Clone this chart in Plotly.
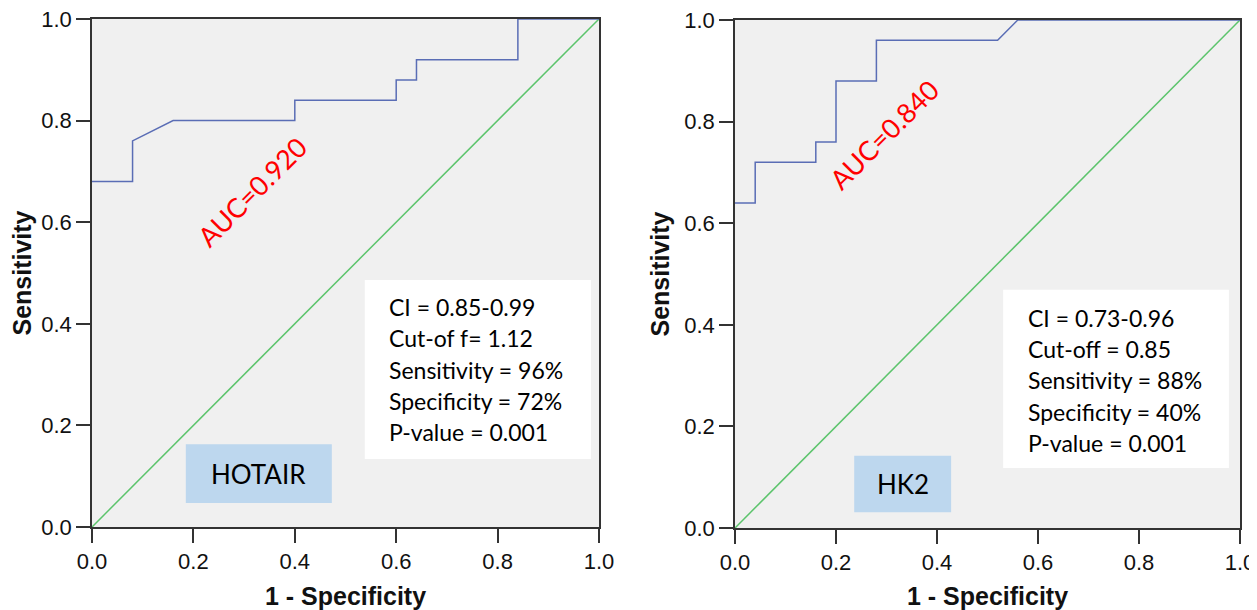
import plotly.graph_objects as go

# HOTAIR ROC curve
hotair_fpr = [0.0, 0.08, 0.08, 0.16, 0.40, 0.40, 0.60, 0.60, 0.64, 0.64, 0.84, 0.84, 1.0]
hotair_tpr = [0.68, 0.68, 0.76, 0.80, 0.80, 0.84, 0.84, 0.88, 0.88, 0.92, 0.92, 1.0, 1.0]
# HK2 ROC curve
hk2_fpr = [0.0, 0.04, 0.04, 0.09, 0.16, 0.16, 0.20, 0.20, 0.28, 0.28, 0.52, 0.56, 1.0]
hk2_tpr = [0.64, 0.64, 0.72, 0.72, 0.72, 0.76, 0.76, 0.88, 0.88, 0.96, 0.96, 1.0, 1.0]
ref_line = [0.0, 1.0]

tick_vals = [0.0, 0.2, 0.4, 0.6, 0.8, 1.0]
tick_text = ["0.0", "0.2", "0.4", "0.6", "0.8", "1.0"]

hotair_stats = ["CI = 0.85-0.99", "Cut-of f= 1.12", "Sensitivity = 96%", "Specificity = 72%", "P-value = 0.001"]
hk2_stats = ["CI = 0.73-0.96", "Cut-off = 0.85", "Sensitivity = 88%", "Specificity = 40%", "P-value = 0.001"]

BLUE = "#5a6db5"
GREEN = "#5cc46c"
TXT_FONT = "Lato"

# page offset compensation (browser body margin)
OFF = 8
W, H = 1257 - OFF, 610 - OFF


def px(x):
    return (x - OFF) / W


def py(y):
    return 1 - (y - OFF) / H


fig = go.Figure()
for xa, ya, fpr, tpr in [("x", "y", hotair_fpr, hotair_tpr), ("x2", "y2", hk2_fpr, hk2_tpr)]:
    fig.add_trace(go.Scatter(x=ref_line, y=ref_line, mode="lines", line=dict(color=GREEN, width=1.5),
                             xaxis=xa, yaxis=ya, showlegend=False, hoverinfo="skip"))
    fig.add_trace(go.Scatter(x=fpr, y=tpr, mode="lines", line=dict(color=BLUE, width=1.5),
                             xaxis=xa, yaxis=ya, showlegend=False))

axis_common = dict(range=[0, 1], tickvals=tick_vals, ticktext=tick_text, showgrid=False, zeroline=False,
                   showline=True, mirror=True, linecolor="#333333", linewidth=1.5, automargin=False,
                   ticks="outside", ticklen=14, tickwidth=1.5, tickcolor="#333333",
                   ticklabeloverflow="allow",
                   tickfont=dict(family="Liberation Sans", size=22, color="#111111"))
title_font = dict(family="Liberation Sans", size=25, color="#111")

fig.update_layout(
    width=W, height=H,
    margin=dict(l=0, r=0, t=0, b=0, autoexpand=False),
    paper_bgcolor="white", plot_bgcolor="#f0f0f0",
    xaxis=dict(domain=[px(92), px(599)], anchor="y",
               title=dict(text="<b>1 - Specificity</b>", font=title_font, standoff=16), **axis_common),
    yaxis=dict(domain=[py(527), py(19)], anchor="x",
               title=dict(text="<b>Sensitivity</b>", font=title_font, standoff=8), **axis_common),
    xaxis2=dict(domain=[px(735), px(1240)], anchor="y2",
                title=dict(text="<b>1 - Specificity</b>", font=title_font, standoff=16), **axis_common),
    yaxis2=dict(domain=[py(528), py(20)], anchor="x2",
                title=dict(text="<b>Sensitivity</b>", font=title_font, standoff=8), **axis_common),
)

shapes = []
annotations = []
# left panel decorations
shapes.append(dict(type="rect", xref="x", yref="y", x0=0.538, x1=0.984, y0=0.134, y1=0.486,
                   fillcolor="white", line=dict(width=0), layer="above"))
shapes.append(dict(type="rect", xref="x", yref="y", x0=0.185, x1=0.473, y0=0.047, y1=0.163,
                   fillcolor="#bdd7ee", line=dict(width=0), layer="above"))
left_line_y = [307, 338, 370, 401, 432]
for txt, ly in zip(hotair_stats, left_line_y):
    annotations.append(dict(xref="x", yref="y", x=0.582, y=(527 - ly) / 508, text=txt, showarrow=False,
                            xanchor="left", yanchor="middle", font=dict(family=TXT_FONT, size=23, color="black")))
annotations.append(dict(xref="x", yref="y", x=0.329, y=0.104, text="HOTAIR", showarrow=False,
                        xanchor="center", yanchor="middle", font=dict(family=TXT_FONT, size=26, color="black")))
annotations.append(dict(xref="x", yref="y", x=0.316, y=0.66, text="AUC=0.920", showarrow=False, textangle=-45,
                        xanchor="center", yanchor="middle", font=dict(family=TXT_FONT, size=27, color="red")))

# right panel decorations
shapes.append(dict(type="rect", xref="x2", yref="y2", x0=0.531, x1=0.978, y0=0.118, y1=0.469,
                   fillcolor="white", line=dict(width=0), layer="above"))
shapes.append(dict(type="rect", xref="x2", yref="y2", x0=0.236, x1=0.428, y0=0.031, y1=0.142,
                   fillcolor="#bdd7ee", line=dict(width=0), layer="above"))
right_line_y = [318, 349, 380, 412, 443]
for txt, ly in zip(hk2_stats, right_line_y):
    annotations.append(dict(xref="x2", yref="y2", x=0.576, y=(528 - ly) / 508, text=txt, showarrow=False,
                            xanchor="left", yanchor="middle", font=dict(family=TXT_FONT, size=23, color="black")))
annotations.append(dict(xref="x2", yref="y2", x=0.332, y=0.0865, text="HK2", showarrow=False,
                        xanchor="center", yanchor="middle", font=dict(family=TXT_FONT, size=26, color="black")))
annotations.append(dict(xref="x2", yref="y2", x=0.295, y=0.774, text="AUC=0.840", showarrow=False, textangle=-45,
                        xanchor="center", yanchor="middle", font=dict(family=TXT_FONT, size=27, color="red")))

fig.update_layout(shapes=shapes, annotations=annotations)
fig.write_html("out.html")
